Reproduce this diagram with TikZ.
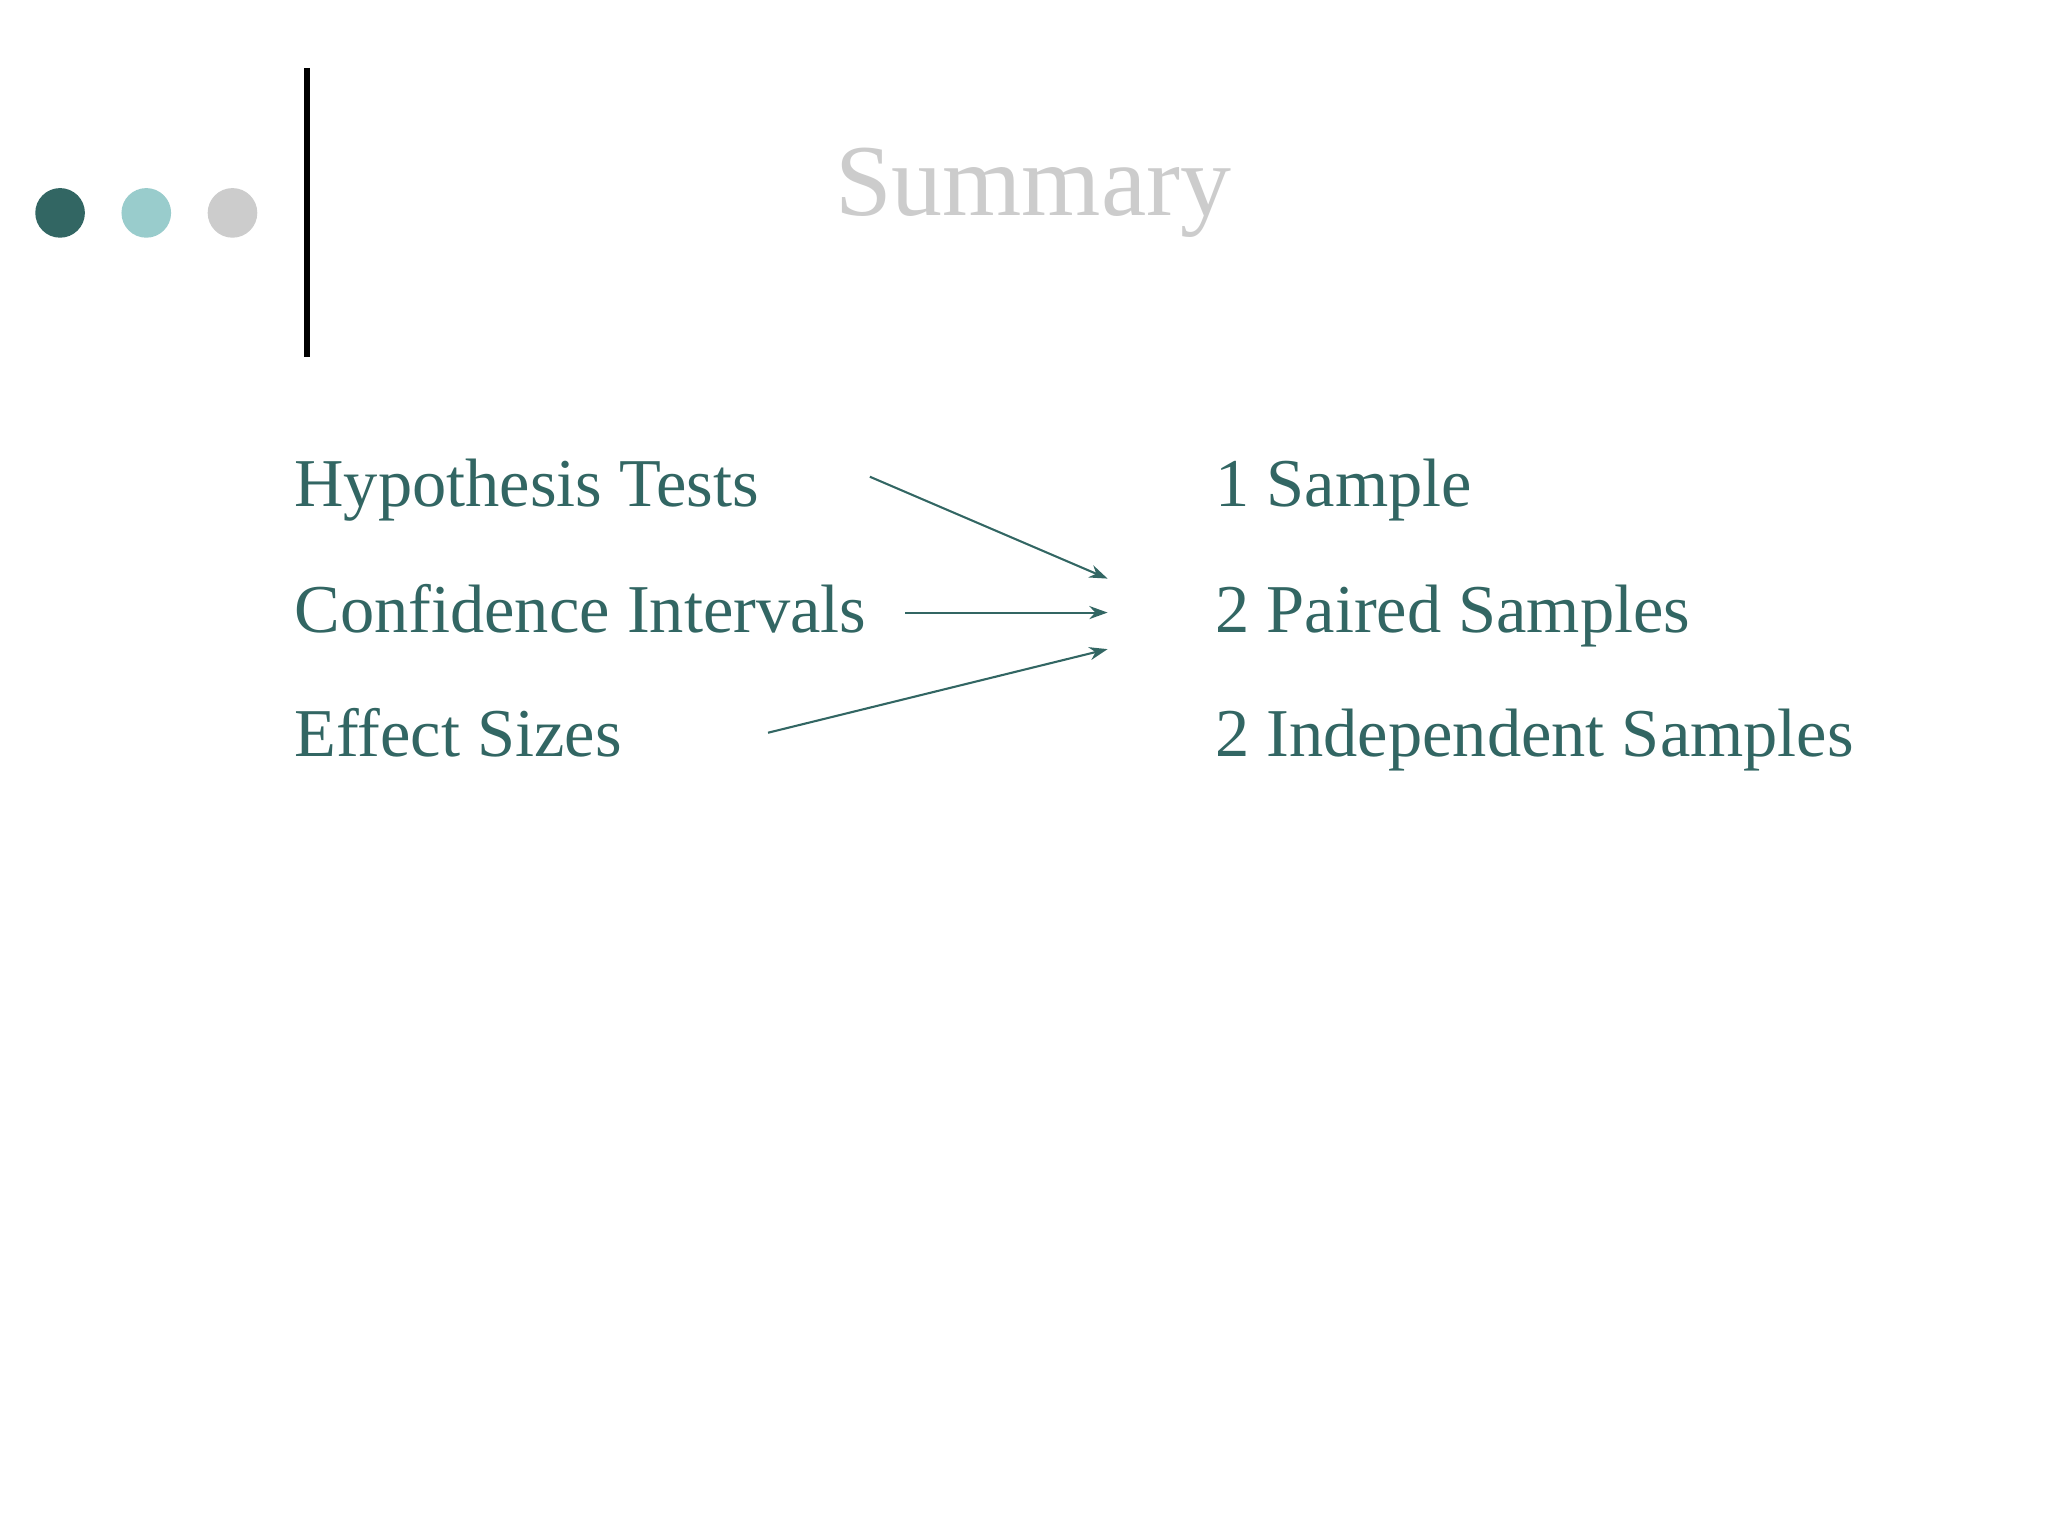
\documentclass[tikz,border=0pt]{standalone}
\usepackage{fontspec}
\setmainfont{Liberation Serif}
\usetikzlibrary{arrows.meta}
\definecolor{teal1}{HTML}{326663}
\definecolor{teal2}{HTML}{99CCCC}
\definecolor{gray1}{HTML}{CCCCCC}
\begin{document}
\begin{tikzpicture}[x=0.5pt,y=-0.5pt,
  item/.style={anchor=base west,inner sep=0pt,text=teal1,font=\fontsize{26.2}{30}\selectfont},
  conn/.style={draw=teal1,line width=0.8pt,-{Stealth[length=7pt,width=5pt]}}]
\useasboundingbox (0,0) rectangle (1568,1176);
\fill[white] (0,0) rectangle (1568,1176);
\fill[teal1] (46,163) circle (19);
\fill[teal2] (112,163) circle (19);
\fill[gray1] (178,163) circle (19);
\draw[line width=2.5pt] (235,52) -- (235,273);
\node[anchor=base,inner sep=0pt,text=gray1,font=\fontsize{39}{44}\selectfont] (title) at (791,165) {Summary};
\node[item] (h) at (225,388) {Hypothesis Tests};
\node[item] (c) at (225,484) {Confidence Intervals};
\node[item] (e) at (225,579) {Effect Sizes};
\node[item] (s1) at (930,388) {1 Sample};
\node[item] (s2) at (930,484) {2 Paired Samples};
\node[item] (s3) at (930,579) {2 Independent Samples};
\coordinate (a1) at (666,365); \coordinate (b1) at (848,443);
\coordinate (a2) at (693,469); \coordinate (b2) at (848,469);
\coordinate (a3) at (588,561); \coordinate (b3) at (848,497);
\draw[conn] (a1) -- (b1);
\draw[conn] (a2) -- (b2);
\draw[conn] (a3) -- (b3);
\end{tikzpicture}
\end{document}
